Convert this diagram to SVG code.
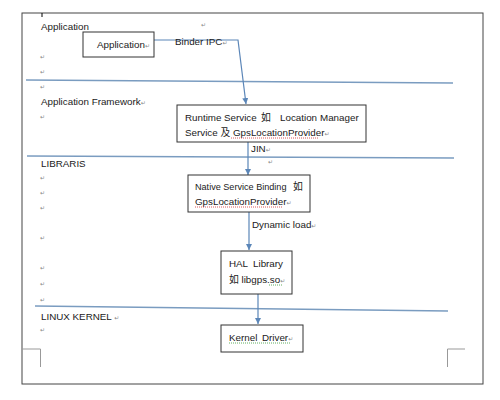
<svg xmlns="http://www.w3.org/2000/svg" width="500" height="400" viewBox="0 0 500 400">
<style>
text{font-family:"Liberation Sans","Noto Sans CJK SC",sans-serif;font-size:9.8px;fill:#1a1a1a}
.pm{font-family:"DejaVu Sans",sans-serif;font-size:6px;fill:#888}
.box{fill:#fff;stroke:#333;stroke-width:1}
.sep{stroke:#7a9cc0;stroke-width:1.3;fill:none}
.con{stroke:#5b86b8;stroke-width:1.2;fill:none}
.red{stroke:#d03030;stroke-width:0.8;stroke-dasharray:1 1;fill:none}
.grn{stroke:#3a9a3a;stroke-width:0.8;stroke-dasharray:1 1;fill:none}
.crn{stroke:#999;stroke-width:1;fill:none}
</style>
<defs>
<marker id="ah" viewBox="0 0 6 6" refX="6" refY="3" markerWidth="6" markerHeight="6" markerUnits="userSpaceOnUse" orient="auto">
<path d="M0,0 L6,3 L0,6 z" fill="#5b86b8"/>
</marker>
</defs>
<rect x="0" y="0" width="500" height="400" fill="#fff"/>
<rect x="22" y="13" width="461" height="371" fill="none" stroke="#444" stroke-width="1"/>
<line x1="42" y1="13" x2="42" y2="17" stroke="#000" stroke-width="1"/>
<g id="corners">
<path class="crn" d="M22,349 H40.5 V367"/>
<path class="crn" d="M465,349 H447.5 V367"/>
</g>
<g id="separators">
<line class="sep" x1="26" y1="80" x2="453" y2="83"/>
<line class="sep" x1="27" y1="156" x2="454" y2="158"/>
<line class="sep" x1="35" y1="306" x2="448" y2="311"/>
</g>
<g id="labels">
<text x="41" y="29.5">Application</text>
<text class="pm" x="201" y="27">↵</text>
<text class="pm" x="40" y="59">↵</text>
<text class="pm" x="40" y="74">↵</text>
<text class="pm" x="40" y="89">↵</text>
<text x="41" y="104.5">Application Framework<tspan class="pm">↵</tspan></text>
<text class="pm" x="40" y="119">↵</text>
<text x="41" y="166.5">LIBRARIS</text>
<text class="pm" x="40" y="180">↵</text>
<text class="pm" x="40" y="195">↵</text>
<text class="pm" x="40" y="210">↵</text>
<text class="pm" x="40" y="240">↵</text>
<text class="pm" x="40" y="270">↵</text>
<text class="pm" x="40" y="286">↵</text>
<text class="pm" x="40" y="302">↵</text>
<text x="41" y="319.5">LINUX KERNEL <tspan class="pm">↵</tspan></text>
<text class="pm" x="40" y="332">↵</text>
</g>
<g id="connectors">
<polyline class="con" points="154,40 238,40 246,104" marker-end="url(#ah)"/>
<line class="con" x1="248" y1="142" x2="248" y2="175" marker-end="url(#ah)"/>
<line class="con" x1="249" y1="212" x2="249" y2="250" marker-end="url(#ah)"/>
<line class="con" x1="258" y1="294" x2="258" y2="324" marker-end="url(#ah)"/>
<text x="175" y="44.5">Binder IPC<tspan class="pm">↵</tspan></text>
<text x="251" y="151.5">JIN<tspan class="pm">↵</tspan></text>
<text class="pm" x="268" y="164">↵</text>
<text x="252" y="227.5">Dynamic load<tspan class="pm">↵</tspan></text>
</g>
<g id="node-application">
<rect class="box" x="83" y="32" width="71" height="25"/>
<text x="97" y="47.5">Application<tspan class="pm">↵</tspan></text>
</g>
<g id="node-runtime">
<rect class="box" x="177" y="105" width="189" height="37"/>
<text y="120.5"><tspan x="185">Runtime</tspan><tspan x="224">Service</tspan><tspan x="261">如</tspan><tspan x="280">Location</tspan><tspan x="320">Manager</tspan></text>
<text x="185" y="135.5">Service 及 GpsLocationProvider<tspan class="pm">↵</tspan></text>
<path class="red" d="M231,138 H318"/>
</g>
<g id="node-native">
<rect class="box" x="188" y="175" width="122" height="37"/>
<text x="195" y="189.5" style="font-size:9.1px">Native Service Binding</text>
<text x="293" y="189.5">如</text>
<text x="195" y="204.5">GpsLocationProvider<tspan class="pm">↵</tspan></text>
<path class="red" d="M195,207 H283"/>
</g>
<g id="node-hal">
<rect class="box" x="221" y="251" width="71" height="43"/>
<text y="266.5"><tspan x="229">HAL</tspan><tspan x="253">Library</tspan></text>
<text x="229" y="282.5">如  libgps.so<tspan class="pm">↵</tspan></text>
<path class="grn" d="M269,285 H283"/>
</g>
<g id="node-kernel">
<rect class="box" x="221" y="325" width="82" height="27"/>
<text y="340.5"><tspan x="229">Kernel</tspan><tspan x="262">Driver</tspan><tspan class="pm">↵</tspan></text>
<path class="grn" d="M229,343 H291"/>
</g>
</svg>
